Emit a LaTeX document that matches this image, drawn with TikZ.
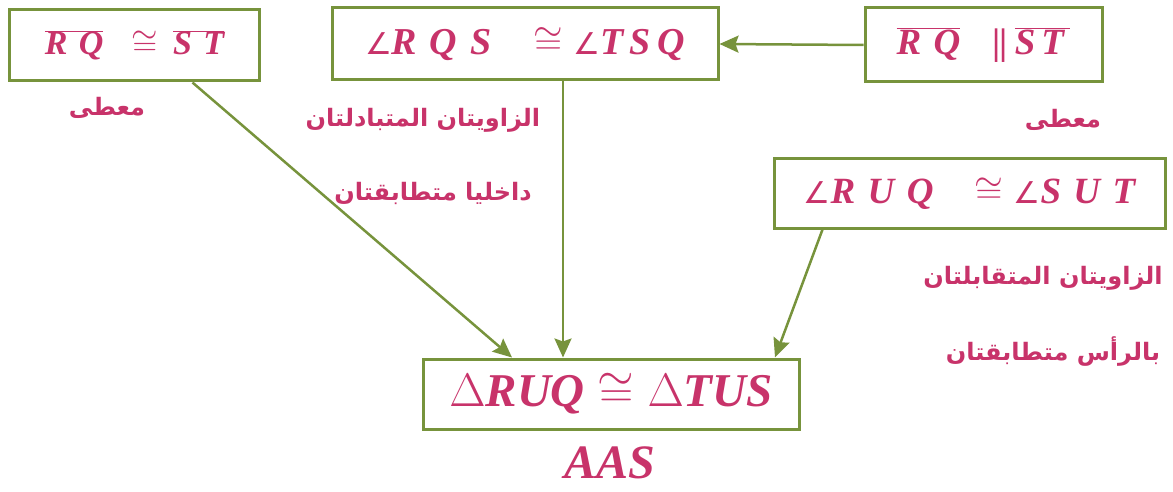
\RequirePackage{fix-cm}
\documentclass[tikz,border=0pt]{standalone}
\usepackage{fontspec}
\usepackage{tikz}
\setmainfont{Liberation Serif}
\newfontfamily\arabicfont[Script=Arabic]{DejaVu Sans}
\newfontfamily\symbolfont{DejaVu Sans}
\TeXXeTstate=1
\usetikzlibrary{arrows.meta}
\definecolor{boxgreen}{HTML}{77933C}
\definecolor{textrose}{HTML}{C8336A}
\newcommand{\letters}[1]{\mbox{\bfseries\itshape #1}}
\newcommand{\seg}[1]{\overline{\letters{#1}}}
\newcommand{\ang}{\mbox{\symbolfont\fontsize{30}{36}\selectfont∠}}
\newcommand{\parto}{\mbox{\bfseries\kern1pt|\kern-1pt|\kern1pt}}

\begin{document}
\begin{tikzpicture}[x=1pt,y=-1pt]
  \tikzset{
    stmt/.style={draw=boxgreen, line width=3pt, fill=white,
      inner sep=0pt, text=textrose},
    reason/.style={text=textrose, font=\arabicfont\bfseries\fontsize{24}{28}\selectfont},
    link/.style={draw=boxgreen, line width=2.5pt,
      -{Stealth[length=19pt,width=17pt,inset=3pt]}}
  }
  \useasboundingbox (0,0) rectangle (1173,492);

  % statements
  \node[stmt, minimum width=250pt, minimum height=71pt,
    font=\fontsize{34}{40}\selectfont] (given1) at (134.5,45.5)
    {$\seg{R\,\,Q}\;\;\cong\,\seg{S\,\,T}$};
  \node[stmt, minimum width=386pt, minimum height=72pt,
    font=\fontsize{38}{45}\selectfont] (alt) at (525,44)
    {$\ang\letters{R\,\,Q\,\,S}\;\;\;\cong\ang\letters{T\,S\,Q}$};
  \node[stmt, minimum width=237pt, minimum height=74pt,
    font=\fontsize{37}{44}\selectfont] (given2) at (983.5,45)
    {$\seg{R\,\,Q}\;\;\;\parto\,\seg{S\,T\,}$};
  \node[stmt, minimum width=391pt, minimum height=69pt,
    font=\fontsize{37}{44}\selectfont] (vert) at (969.5,193.5)
    {$\ang\letters{R\,\,U\,\,Q}\;\;\;\cong\ang\letters{S\,\,U\,\,T}$};
  \node[stmt, minimum width=376pt, minimum height=70pt,
    font=\fontsize{47}{54}\selectfont] (concl) at (611,394)
    {$\Delta\letters{RUQ}\cong\Delta\letters{TUS}$};

  % reasons
  \node[reason] (r1) at (107,108) {\beginR معطى\endR};
  \node[reason] (r2) at (1063,120) {\beginR معطى\endR};
  \node[reason] (r3a) at (423,120) {\beginR الزاويتان المتبادلتان\endR};
  \node[reason] (r3b) at (433,193) {\beginR داخليا متطابقتان\endR};
  \node[reason] (r4a) at (1043,278) {\beginR الزاويتان المتقابلتان\endR};
  \node[reason] (r4b) at (1053,352) {\beginR بالرأس متطابقتان\endR};
  \node[text=textrose, font=\bfseries\itshape\fontsize{48}{54}\selectfont]
    (aas) at (610,463) {AAS};

  % connectors
  \draw[link] (given2.west) -- (alt.east);
  \draw[link] ([xshift=58pt]given1.south) -- ([xshift=-99pt]concl.north);
  \draw[link] ([xshift=38pt]alt.south) -- ([xshift=-48pt]concl.north);
  \draw[link] ([xshift=-147pt]vert.south) -- ([xshift=164pt]concl.north);
\end{tikzpicture}
\end{document}
